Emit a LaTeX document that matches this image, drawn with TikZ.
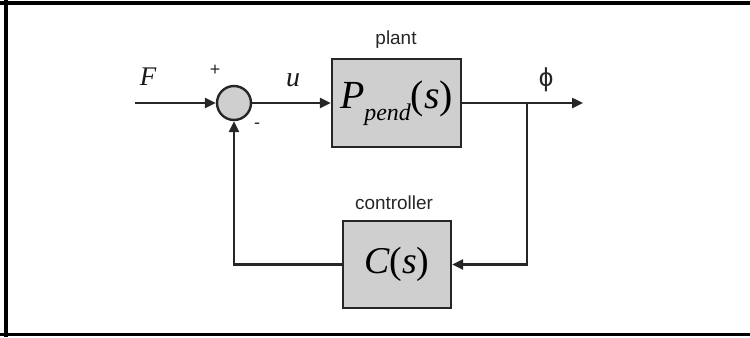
\documentclass[tikz,border=0pt]{standalone}
\usepackage{fontspec}
\setmainfont{Liberation Serif}
\newfontfamily\labelfont{Liberation Sans}
\usetikzlibrary{arrows.meta}
\begin{document}
\begin{tikzpicture}[x=1bp,y=-1bp,
  blk/.style={draw=black!85,line width=2.4bp,fill=black!19,minimum width=129bp,minimum height=88bp,inner sep=0pt},
  sumnode/.style={circle,draw=black!85,line width=2.4bp,fill=black!19,minimum size=34bp,inner sep=0pt},
  arr/.style={line width=2.4bp,draw=black!85,-{Triangle[length=11bp,width=10bp]}},
  lbl/.style={font=\labelfont\fontsize{19}{19}\selectfont,text=black!85,inner sep=0pt},
  sgn/.style={font=\labelfont\fontsize{18}{18}\selectfont,text=black!85,inner sep=0pt},
  mth/.style={inner sep=0pt,text=black!90}]
\useasboundingbox (0,0) rectangle (750,337);
% frame
\draw[line width=3.5bp] (0,3) -- (750,3);
\draw[line width=3.5bp] (6,0) -- (6,337);
\draw[line width=3.5bp] (0,334.5) -- (750,334.5);
% nodes
\node[sumnode] (sum) at (234,103) {};
\node[blk] (plant) at (396.5,103) {\fontsize{40}{40}\selectfont\itshape P\raisebox{-12bp}{\fontsize{24}{24}\selectfont pend}\upshape(\itshape s\upshape)};
\node[blk,minimum width=108bp,minimum height=87bp] (ctrl) at (397,264.5) {\fontsize{38}{38}\selectfont\itshape C\upshape(\itshape s\upshape)};
\coordinate (in) at (135,103);
\coordinate (out) at (583,103);
\coordinate (branch) at (527,103);
% labels
\node[lbl] (plantlbl) at (396,40) {plant};
\node[lbl] (ctrllbl) at (394,203) {controller};
\node[mth] (flbl) at (148,77) {\fontsize{27}{27}\selectfont\itshape F};
\node[mth] (ulbl) at (293,80) {\fontsize{28}{28}\selectfont\itshape u};
\node[sgn] (plus) at (215,70) {+};
\node[sgn] (minus) at (257,126) {-};
\node[lbl,font=\labelfont\fontsize{26}{26}\selectfont] (phi) at (546,80) {ϕ};
% connectors
\draw[arr] (in) -- (sum.west);
\draw[arr] (sum.east) -- (plant.west);
\draw[arr] (plant.east) -- (out);
\draw[arr] (branch) |- (ctrl.east);
\draw[arr] (ctrl.west) -| (sum.south);
\end{tikzpicture}
\end{document}
